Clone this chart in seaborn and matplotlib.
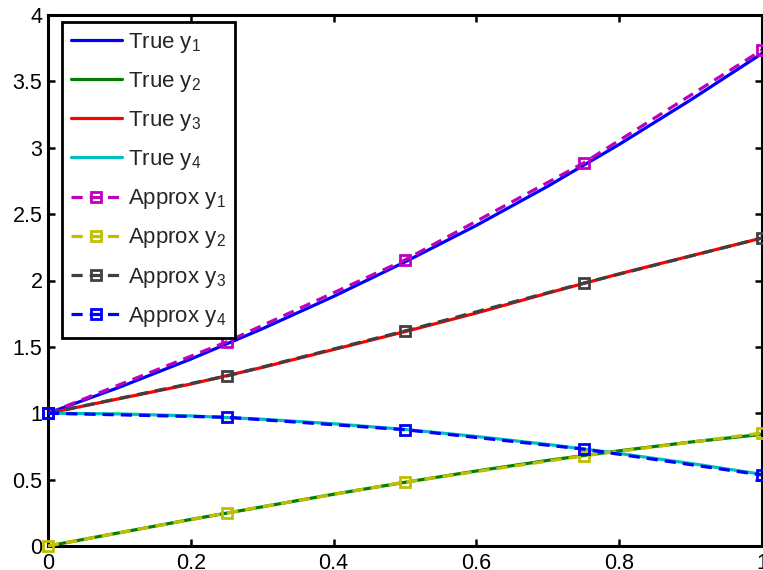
import matplotlib
matplotlib.use("Agg")
import matplotlib.pyplot as plt
import seaborn as sns
import pandas as pd

# Fine grid for the exact solutions
x_true = [0.0, 0.1, 0.2, 0.3, 0.4, 0.5, 0.6, 0.7, 0.8, 0.9, 1.0]
true_y1 = [1.00, 1.196, 1.408, 1.636, 1.88, 2.14, 2.415, 2.71, 3.025, 3.36, 3.71]
true_y2 = [0.00, 0.10, 0.20, 0.295, 0.39, 0.48, 0.565, 0.645, 0.717, 0.783, 0.841]
true_y3 = [1.00, 1.11, 1.22, 1.345, 1.48, 1.615, 1.755, 1.905, 2.05, 2.185, 2.32]
true_y4 = [1.00, 0.995, 0.98, 0.955, 0.921, 0.878, 0.825, 0.765, 0.697, 0.622, 0.540]

# Coarse grid for the numerical approximation
x_approx = [0.0, 0.25, 0.5, 0.75, 1.0]
approx_y1 = [1.00, 1.537, 2.155, 2.885, 3.736]
approx_y2 = [0.00, 0.249, 0.482, 0.679, 0.851]
approx_y3 = [1.00, 1.28, 1.62, 1.98, 2.32]
approx_y4 = [1.00, 0.97, 0.876, 0.73, 0.535]

x_ticks = [0, 0.2, 0.4, 0.6, 0.8, 1]
y_ticks = [0, 0.5, 1, 1.5, 2, 2.5, 3, 3.5, 4]
x_tick_labels = ["0", "0.2", "0.4", "0.6", "0.8", "1"]
y_tick_labels = ["0", "0.5", "1", "1.5", "2", "2.5", "3", "3.5", "4"]

sns.set_style("ticks")
plt.rcParams["font.family"] = ["Liberation Sans", "DejaVu Sans"]
plt.rcParams["mathtext.fontset"] = "custom"
plt.rcParams["mathtext.rm"] = "Liberation Sans"
plt.rcParams["mathtext.it"] = "Liberation Sans"

fig = plt.figure(figsize=(7.63, 5.70), dpi=100)
ax = fig.add_axes([48 / 763, 24 / 570, 714 / 763, 531 / 570])

true_df = pd.DataFrame({"x": x_true, "y1": true_y1, "y2": true_y2,
                        "y3": true_y3, "y4": true_y4})
approx_df = pd.DataFrame({"x": x_approx, "y1": approx_y1, "y2": approx_y2,
                          "y3": approx_y3, "y4": approx_y4})

true_colors = ["#0000ff", "#008000", "#ff0000", "#00bfbf"]
approx_colors = ["#bf00bf", "#bfbf00", "#404040", "#0000ff"]

for i, c in enumerate(true_colors, start=1):
    sns.lineplot(data=true_df, x="x", y=f"y{i}", ax=ax, color=c, lw=2.3,
                 label=f"True y$_{i}$", estimator=None, sort=False)

for i, c in enumerate(approx_colors, start=1):
    sns.lineplot(data=approx_df, x="x", y=f"y{i}", ax=ax, color=c, lw=2.3,
                 linestyle=(0, (3.5, 2.2)), marker="s", markersize=7,
                 markerfacecolor="none", markeredgecolor=c, markeredgewidth=2,
                 label=f"Approx y$_{i}$", estimator=None, sort=False,
                 clip_on=False, zorder=3)

ax.set_xlim(0, 1)
ax.set_ylim(0, 4)
ax.set_xticks(x_ticks)
ax.set_xticklabels(x_tick_labels)
ax.set_yticks(y_ticks)
ax.set_yticklabels(y_tick_labels)
ax.set_xlabel("")
ax.set_ylabel("")

for side in ["left", "right", "top", "bottom"]:
    ax.spines[side].set_visible(True)
    ax.spines[side].set_linewidth(2.2)
    ax.spines[side].set_color("black")

ax.tick_params(direction="in", length=5, width=1.8, labelsize=15.5,
               top=True, right=True, pad=4, colors="black")
ax.tick_params(axis="x", pad=5)

leg = ax.legend(loc="upper left", bbox_to_anchor=(14 / 714, 1 - 7 / 531),
                borderaxespad=0, fontsize=16, handlelength=2.3,
                labelspacing=0.68, handletextpad=0.27, borderpad=0.4,
                fancybox=False, framealpha=1, edgecolor="black")
leg.get_frame().set_linewidth(2)

fig.savefig("out.png", dpi=100)
